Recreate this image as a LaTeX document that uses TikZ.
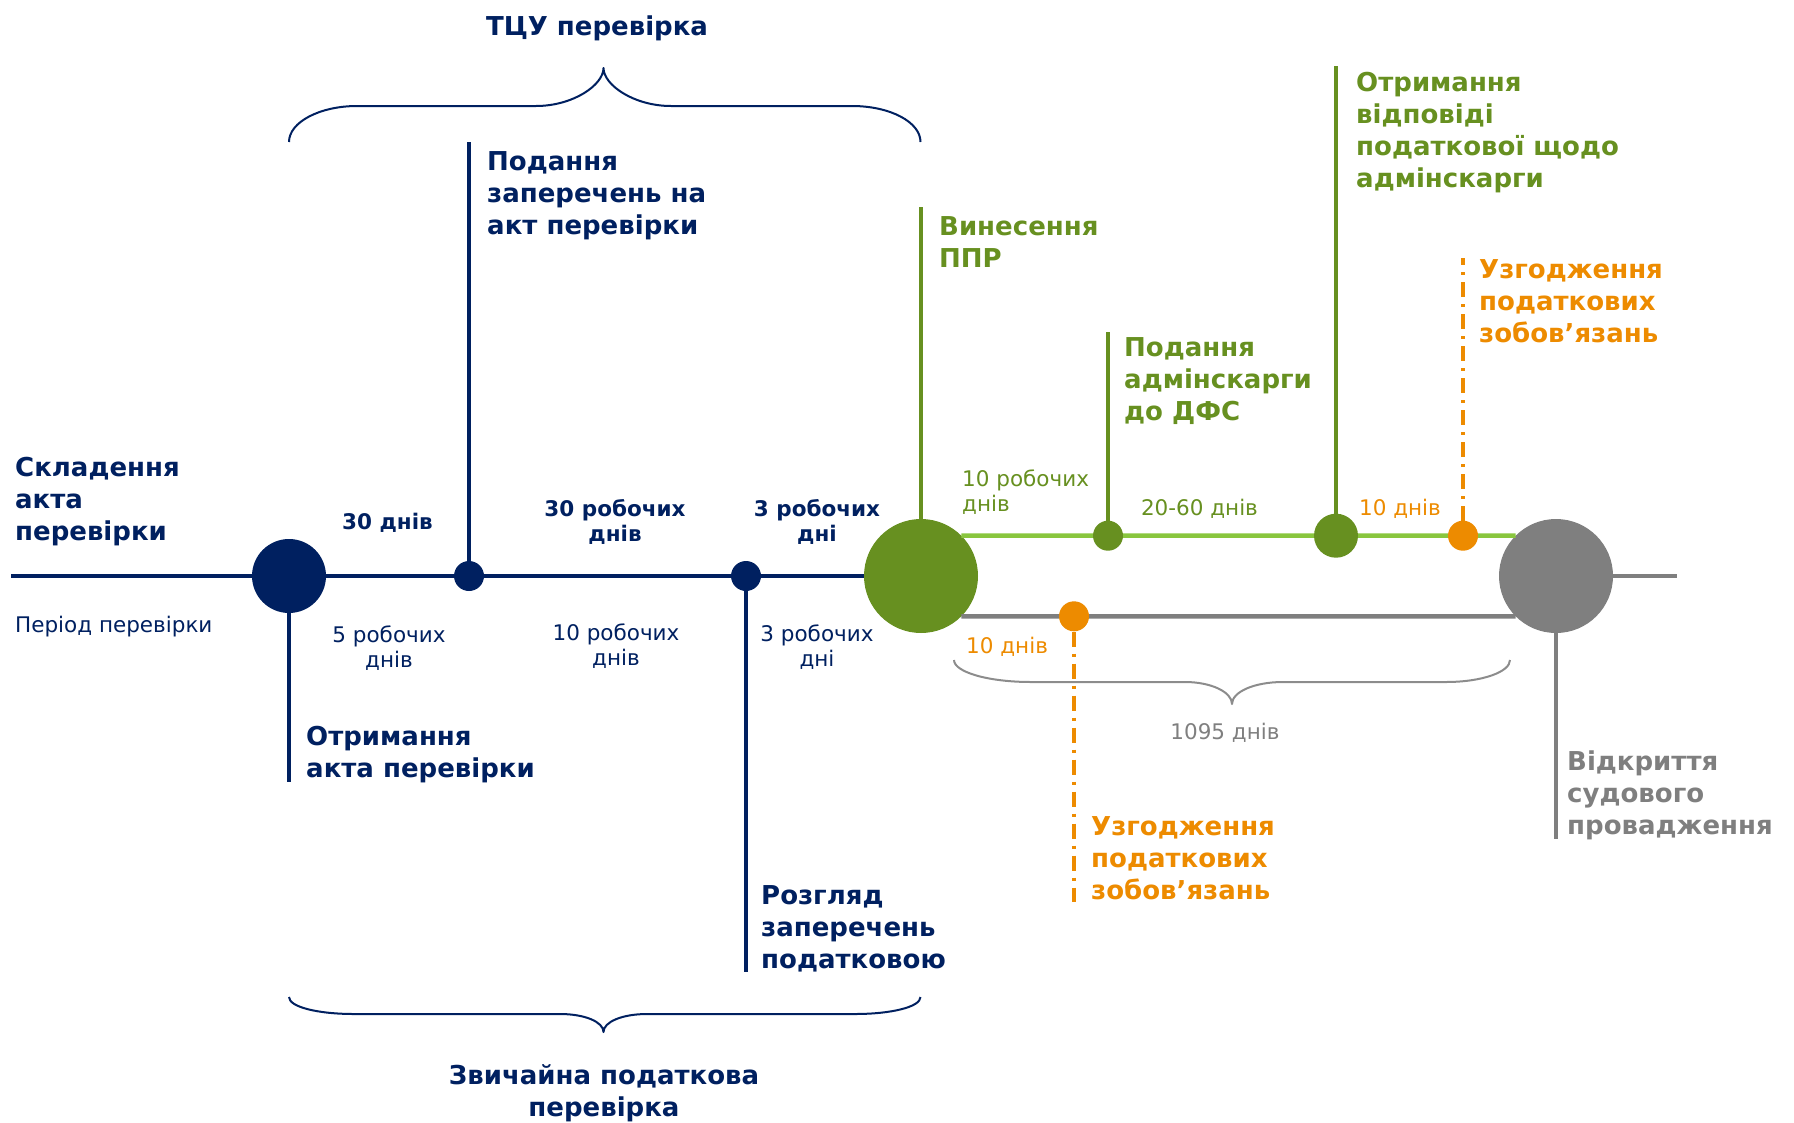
\documentclass[tikz,border=0pt]{standalone}
\usepackage{fontspec}
\setmainfont{DejaVu Sans}
\usepackage{xcolor}
\usepackage{tikz}
\definecolor{qq2060}{rgb}{0.,0.125,0.376}
\definecolor{aa951f}{rgb}{0.404,0.565,0.125}
\definecolor{bbc63e}{rgb}{0.537,0.776,0.243}
\definecolor{ee8bqq}{rgb}{0.929,0.545,0.}
\definecolor{zz7f7f}{rgb}{0.498,0.498,0.498}
\definecolor{zz8c8c}{rgb}{0.55,0.55,0.55}
\tikzset{
  ev/.style={circle,inner sep=0pt,minimum size=#1},
  bigtxt/.style={font=\fontsize{26}{32}\selectfont\bfseries,align=left,anchor=north west,inner sep=0pt},
  durb/.style={font=\fontsize{21.5}{25}\selectfont\bfseries,align=center,anchor=north,inner sep=0pt},
  durn/.style={font=\fontsize{21.5}{25}\selectfont,align=center,anchor=north,inner sep=0pt},
  bline/.style={line width=4pt,color=qq2060},
  bvert/.style={line width=3.5pt,color=qq2060},
  gvert/.style={line width=3.5pt,color=aa951f},
  gline/.style={line width=4.5pt,color=bbc63e},
  grline/.style={line width=4.5pt,color=zz7f7f},
  odash/.style={line width=3.5pt,color=ee8bqq,dash pattern=on 15pt off 7pt on 3pt off 7pt},
  brc/.style={line width=2pt}
}

\begin{document}
\begin{tikzpicture}[line cap=butt,line join=round,x=1pt,y=-1pt]
            \useasboundingbox (0,0) rectangle (1794,1122);
            % events on the time line
            \node[ev=74,fill=qq2060] (skl) at (289,576) {};
            \node[ev=30,fill=qq2060] (zap) at (469,576) {};
            \node[ev=30,fill=qq2060] (rozg) at (746,576) {};
            \node[ev=114,fill=aa951f] (ppr) at (921,576) {};
            \node[ev=30,fill=aa951f] (adm) at (1108,535.7) {};
            \node[ev=44,fill=aa951f] (vidp) at (1336,535.7) {};
            \node[ev=30,fill=ee8bqq] (uzg1) at (1463,535.7) {};
            \node[ev=30,fill=ee8bqq] (uzg2) at (1074,616.3) {};
            \node[ev=114,fill=zz7f7f] (sud) at (1556,576) {};
            \coordinate (lbeg) at (11,576);
            \coordinate (rend) at (1677,576);
            \coordinate (zaptop) at (469,142);
            \coordinate (sklbot) at (289,782);
            \coordinate (rozgbot) at (746,972);
            \coordinate (pprtop) at (921,207);
            \coordinate (admtop) at (1108,332);
            \coordinate (vidptop) at (1336,66);
            \coordinate (uzg1top) at (1463,258);
            \coordinate (uzg2bot) at (1074,902);
            \coordinate (sudbot) at (1556,839);
            % lines
            \draw [bline] (lbeg) -- (skl) -- (zap) -- (rozg) -- (ppr);
            \draw [gline] (ppr.45) -- (adm) -- (vidp) -- (uzg1) -- (sud.135);
            \draw [grline] (ppr.-45) -- (uzg2) -- (sud.-135);
            \draw [grline] (sud) -- (rend);
            \draw [bvert] (zap) -- (zaptop);
            \draw [bvert] (skl) -- (sklbot);
            \draw [bvert] (rozg) -- (rozgbot);
            \draw [gvert] (ppr) -- (pprtop);
            \draw [gvert] (adm) -- (admtop);
            \draw [gvert] (vidp) -- (vidptop);
            \draw [odash] (uzg1) -- (uzg1top);
            \draw [odash] (uzg2) -- (uzg2bot);
            \draw [line width=3.5pt,color=zz7f7f] (sud) -- (sudbot);
            % braces
            \draw [brc,color=qq2060] (289,142) .. controls (289,122) and (320,106) .. (357,106) -- (536,106) .. controls (573,106) and (603.5,85) .. (603.5,68) .. controls (603.5,85) and (634,106) .. (671,106) -- (852,106) .. controls (890,106) and (920.5,122) .. (920.5,142);
            \draw [brc,color=qq2060] (289,997) .. controls (289,1007) and (318,1014) .. (354,1014) -- (560,1014) .. controls (585,1014) and (603.5,1022) .. (603.5,1032) .. controls (603.5,1022) and (622,1014) .. (647,1014) -- (855,1014) .. controls (891,1014) and (920.5,1007) .. (920.5,997);
            \draw [brc,color=zz8c8c] (954,660) .. controls (954,672) and (988,682) .. (1031,682) -- (1185,682) .. controls (1211,682) and (1232,692) .. (1232,704) .. controls (1232,692) and (1254,682) .. (1283,682) -- (1446,682) .. controls (1482,682) and (1510,672) .. (1510,660);
            % texts
            \node[bigtxt,anchor=north,align=center,text=qq2060] (ttcu) at (597,16) {ТЦУ перевірка};
            \node[bigtxt,anchor=north,align=center,text=qq2060] (tzvych) at (604,1064) {Звичайна податкова\\перевірка};
            \node[bigtxt,text=qq2060] (tskl) at (15,457) {Складення\\акта\\перевірки};
            \node[durn,anchor=north west,text=qq2060] (tper) at (15,616) {Період перевірки};
            \node[durb,text=qq2060] (d30) at (387.5,513) {30 днів};
            \node[durn,text=qq2060] (d5) at (389,626) {5 робочих\\днів};
            \node[bigtxt,text=qq2060] (totr) at (306,726) {Отримання\\акта перевірки};
            \node[bigtxt,text=qq2060] (tpod) at (487,151) {Подання\\заперечень на\\акт перевірки};
            \node[durb,text=qq2060] (d30r) at (615,499) {30 робочих\\днів};
            \node[durn,text=qq2060] (d10r) at (616,624) {10 робочих\\днів};
            \node[durb,text=qq2060] (d3b) at (817,499) {3 робочих\\дні};
            \node[durn,text=qq2060] (d3n) at (817,625) {3 робочих\\дні};
            \node[bigtxt,text=qq2060] (trozg) at (761,885) {Розгляд\\заперечень\\податковою};
            \node[bigtxt,text=aa951f] (tppr) at (939,216) {Винесення\\ППР};
            \node[durn,anchor=north west,align=left,text=aa951f] (d10g) at (962,470) {10 робочих\\днів};
            \node[bigtxt,text=aa951f] (tadm) at (1124,337) {Подання\\адмінскарги\\до ДФС};
            \node[durn,text=aa951f] (d2060) at (1199.5,499) {20-60 днів};
            \node[bigtxt,text=aa951f] (tvidp) at (1356,72) {Отримання\\відповіді\\податкової щодо\\адмінскарги};
            \node[durn,text=ee8bqq] (d10o) at (1400,499) {10 днів};
            \node[bigtxt,text=ee8bqq] (tuzg1) at (1479,259) {Узгодження\\податкових\\зобов’язань};
            \node[durn,anchor=north west,text=ee8bqq] (d10o2) at (966,637) {10 днів};
            \node[bigtxt,text=ee8bqq] (tuzg2) at (1091,816) {Узгодження\\податкових\\зобов’язань};
            \node[durn,text=zz7f7f] (d1095) at (1225,723) {1095 днів};
            \node[bigtxt,text=zz7f7f] (tsud) at (1567,751) {Відкриття\\судового\\провадження};
\end{tikzpicture}
\end{document}
